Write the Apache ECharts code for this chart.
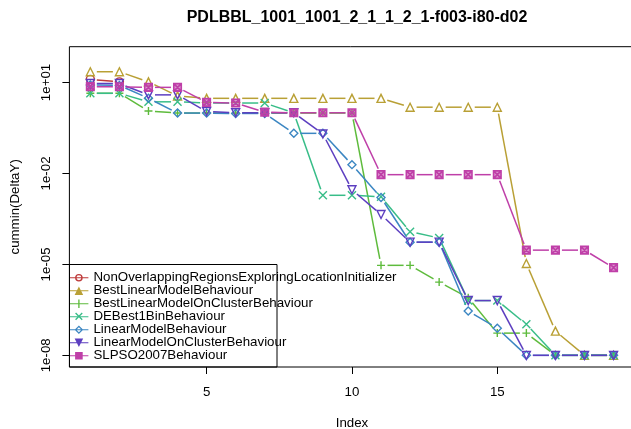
<!DOCTYPE html>
<html>
<head>
<meta charset="utf-8">
<script src="https://cdn.jsdelivr.net/npm/echarts@6/dist/echarts.min.js"></script>
<style>html,body{margin:0;padding:0;background:#fff}#c{width:631px;height:429px}</style>
</head>
<body>
<div id="c"></div>
<script>
// ---- data ----
const titleText = 'PDLBBL_1001_1001_2_1_1_2_1-f003-i80-d02';
const xName = 'Index';
const yName = 'cummin(DeltaY)';
const xIndex = [1,2,3,4,5,6,7,8,9,10,11,12,13,14,15,16,17,18,19];
const xTickValues = [5, 10, 15];
const yTickValues = [1e-8, 1e-5, 1e-2, 1e1];
const yTickLabels = ['1e-08', '1e-05', '1e-02', '1e+01'];
const seriesNames = [
  'NonOverlappingRegionsExploringLocationInitializer',
  'BestLinearModelBehaviour',
  'BestLinearModelOnClusterBehaviour',
  'DEBest1BinBehaviour',
  'LinearModelBehaviour',
  'LinearModelOnClusterBehaviour',
  'SLPSO2007Behaviour'
];
const nonOverlapping = [12.7, 10.5, null, null, null, null, null, null, null, null, null, null, null, null, null, null, null, null, null];
const bestLinear = [22.6, 22.6, 10.5, 3.6, 3.0, 3.0, 3.0, 3.0, 3.0, 3.0, 3.0, 1.53, 1.53, 1.53, 1.53, 1.07e-5, 6.3e-8, 1e-8, 1e-8];
const bestLinearCluster = [4.4, 4.4, 1.15, 0.98, 0.98, 0.98, 0.98, 0.98, 0.98, 0.98, 9.3e-6, 9.3e-6, 2.6e-6, 7.9e-7, 5.4e-8, 5.4e-8, 1e-8, 1e-8, 1e-8];
const deBest1Bin = [4.4, 4.4, 2.3, 2.3, 2.1, 2.1, 2.1, 1.0, 1.9e-3, 1.9e-3, 1.7e-3, 1.2e-4, 7.4e-5, 6.4e-7, 6.4e-7, 1.05e-7, 1e-8, 1e-8, 1e-8];
const linearModel = [8.3, 8.0, 3.0, 0.98, 0.98, 0.95, 0.95, 0.21, 0.21, 0.0195, 1.6e-3, 5.4e-5, 5.4e-5, 2.9e-7, 7.8e-8, 1e-8, 1e-8, 1e-8, 1e-8];
const linearModelCluster = [9.3, 9.2, 3.9, 3.9, 1.1, 1.0, 1.0, 1.0, 0.2, 2.9e-3, 4.4e-4, 5.4e-5, 5.4e-5, 6.4e-7, 6.4e-7, 1e-8, 1e-8, 1e-8, 1e-8];
const slpso = [7.3, 7.2, 6.9, 6.9, 2.2, 2.1, 1.05, 1.0, 1.0, 1.0, 9.1e-3, 9.1e-3, 9.1e-3, 9.1e-3, 9.1e-3, 2.95e-5, 2.95e-5, 2.95e-5, 7.8e-6];
const seriesValues = [nonOverlapping, bestLinear, bestLinearCluster, deBest1Bin, linearModel, linearModelCluster, slpso];

// ---- styles ----
const colors = ['#BE3A3A', '#B9A035', '#5EBB3C', '#38BD88', '#3B86C2', '#5C3EC0', '#BF3FA8'];
const markerFills = ['rgba(0,0,0,0)', 'rgba(0,0,0,0)', 'rgba(0,0,0,0)', 'rgba(0,0,0,0)', 'rgba(0,0,0,0)', 'rgba(0,0,0,0)', 'rgba(191,63,168,0.55)'];
const markerPaths = [
  'path://M1,5 A4,4 0 1,1 9,5 A4,4 0 1,1 1,5 Z',
  'path://M5,0 L10,9 L0,9 Z',
  'path://M5,0 L5,10 M0,5 L10,5',
  'path://M0,0 L10,10 M0,10 L10,0',
  'path://M5,0 L10,5 L5,10 L0,5 Z',
  'path://M0,1 L10,1 L5,10 Z',
  'path://M0,0 L10,0 L10,10 L0,10 Z M0,0 L10,10 M0,10 L10,0'
];
const LINE = 'M0,4.4 L20,4.4 L20,5.6 L0,5.6 Z ';
const legendIcons = [
  'path://' + LINE + 'M6,5 A4,4 0 1,1 14,5 A4,4 0 1,1 6,5 Z M7.4,5 A2.6,2.6 0 1,0 12.6,5 A2.6,2.6 0 1,0 7.4,5 Z',
  'path://' + LINE + 'M10,0.5 L14.5,9.5 L5.5,9.5 Z',
  'path://' + LINE + 'M9.3,0.5 L10.7,0.5 L10.7,9.5 L9.3,9.5 Z',
  'path://' + LINE + 'M7,0.5 L14,7.5 L13,8.5 L6,1.5 Z M6,7.5 L13,0.5 L14,1.5 L7,8.5 Z M10,9.5 L10,9.5 Z',
  'path://' + LINE + 'M10,0.5 L14.5,5 L10,9.5 L5.5,5 Z M10,2.3 L7.3,5 L10,7.7 L12.7,5 Z',
  'path://' + LINE + 'M5.5,0.5 L14.5,0.5 L10,9.5 Z',
  'path://' + LINE + 'M6,1 L14,1 L14,9 L6,9 Z M10,0.5 L10,0.5 Z M10,9.5 L10,9.5 Z'
];
const FONT = 'Liberation Sans';
const GAP = 6.5;

function segSeries(k) {
  const vals = seriesValues[k];
  const color = colors[k];
  const data = [];
  for (let i = 0; i < vals.length - 1; i++) {
    if (vals[i] == null || vals[i + 1] == null) continue;
    data.push([xIndex[i], vals[i], xIndex[i + 1], vals[i + 1]]);
  }
  return {
    type: 'custom', name: seriesNames[k] + ' segments', data: data, silent: true, z: 2,
    encode: { x: [0, 2], y: [1, 3] },
    renderItem: function (params, api) {
      const a = api.coord([api.value(0), api.value(1)]);
      const b = api.coord([api.value(2), api.value(3)]);
      const dx = b[0] - a[0], dy = b[1] - a[1];
      const len = Math.sqrt(dx * dx + dy * dy);
      if (len <= 2 * GAP) return { type: 'group', children: [] };
      const ux = dx / len, uy = dy / len;
      return {
        type: 'line',
        shape: { x1: a[0] + ux * GAP, y1: a[1] + uy * GAP, x2: b[0] - ux * GAP, y2: b[1] - uy * GAP },
        style: { stroke: color, lineWidth: 1.5 }
      };
    }
  };
}
function markSeries(k) {
  return {
    type: 'line', name: seriesNames[k], z: 2,
    data: xIndex.map((x, i) => [x, seriesValues[k][i]]),
    symbol: markerPaths[k], symbolSize: k === 6 ? 7.5 : 8, showSymbol: true,
    lineStyle: { opacity: 0, width: 0, color: colors[k] },
    itemStyle: { color: markerFills[k], borderColor: colors[k], borderWidth: k === 6 ? 1.6 : 1.4 },
    emphasis: { disabled: true },
    animation: false
  };
}
const series = [];
for (let k = 0; k < seriesNames.length; k++) { series.push(segSeries(k)); series.push(markSeries(k)); }

const chart = echarts.init(document.getElementById('c'), null, { renderer: 'canvas' });
chart.setOption({
  animation: false,
  backgroundColor: '#fff',
  textStyle: { fontFamily: FONT },
  title: {
    text: titleText, left: 352, top: 5, textAlign: 'center',
    textStyle: { fontFamily: FONT, fontSize: 16, fontWeight: 'bold', color: '#000' }
  },
  grid: {
    left: 69.4, top: 46.7, width: 565.1, height: 320.3,
    outerBoundsMode: 'none', containLabel: false,
    show: true, borderColor: '#000', borderWidth: 1, backgroundColor: 'transparent'
  },
  xAxis: {
    type: 'value', min: 0.28, max: 19.72,
    name: xName, nameLocation: 'middle', nameGap: 50,
    nameTextStyle: { fontFamily: FONT, fontSize: 13.3, color: '#000' },
    axisLine: { show: false },
    axisTick: { show: true, length: 7, customValues: xTickValues, lineStyle: { color: '#000' } },
    axisLabel: { customValues: xTickValues, margin: 19, fontFamily: FONT, fontSize: 13.3, color: '#000' },
    splitLine: { show: false }
  },
  yAxis: {
    type: 'log', min: Math.pow(10, -8.385), max: Math.pow(10, 2.18),
    name: yName, nameLocation: 'middle', nameGap: 48, nameRotate: 90,
    nameTextStyle: { fontFamily: FONT, fontSize: 13.3, color: '#000' },
    axisLine: { show: false },
    axisTick: { show: true, length: 7, customValues: yTickValues, lineStyle: { color: '#000' } },
    axisLabel: {
      customValues: yTickValues, rotate: 90, margin: 17, fontFamily: FONT, fontSize: 13.3, color: '#000',
      formatter: function (v) {
        let best = 0, bd = Infinity;
        yTickValues.forEach((t, i) => { const d = Math.abs(Math.log10(t) - Math.log10(v)); if (d < bd) { bd = d; best = i; } });
        return yTickLabels[best];
      }
    },
    splitLine: { show: false }
  },
  legend: {
    orient: 'vertical', left: 69.4, top: 271.3, padding: 0, itemGap: 0,
    itemWidth: 19, itemHeight: 9.5, selectedMode: false,
    data: seriesNames.map((n, k) => ({ name: n, icon: legendIcons[k], itemStyle: { color: colors[k], borderWidth: 0 } })),
    textStyle: { fontFamily: FONT, fontSize: 13.3, color: '#000', lineHeight: 12.77 }
  },
  graphic: [{
    type: 'rect', shape: { x: 69.5, y: 264.5, width: 207.5, height: 102.5 },
    style: { fill: null, stroke: '#000', lineWidth: 1 }, z: 100, silent: true
  }],
  series: series
});
</script>
</body>
</html>
